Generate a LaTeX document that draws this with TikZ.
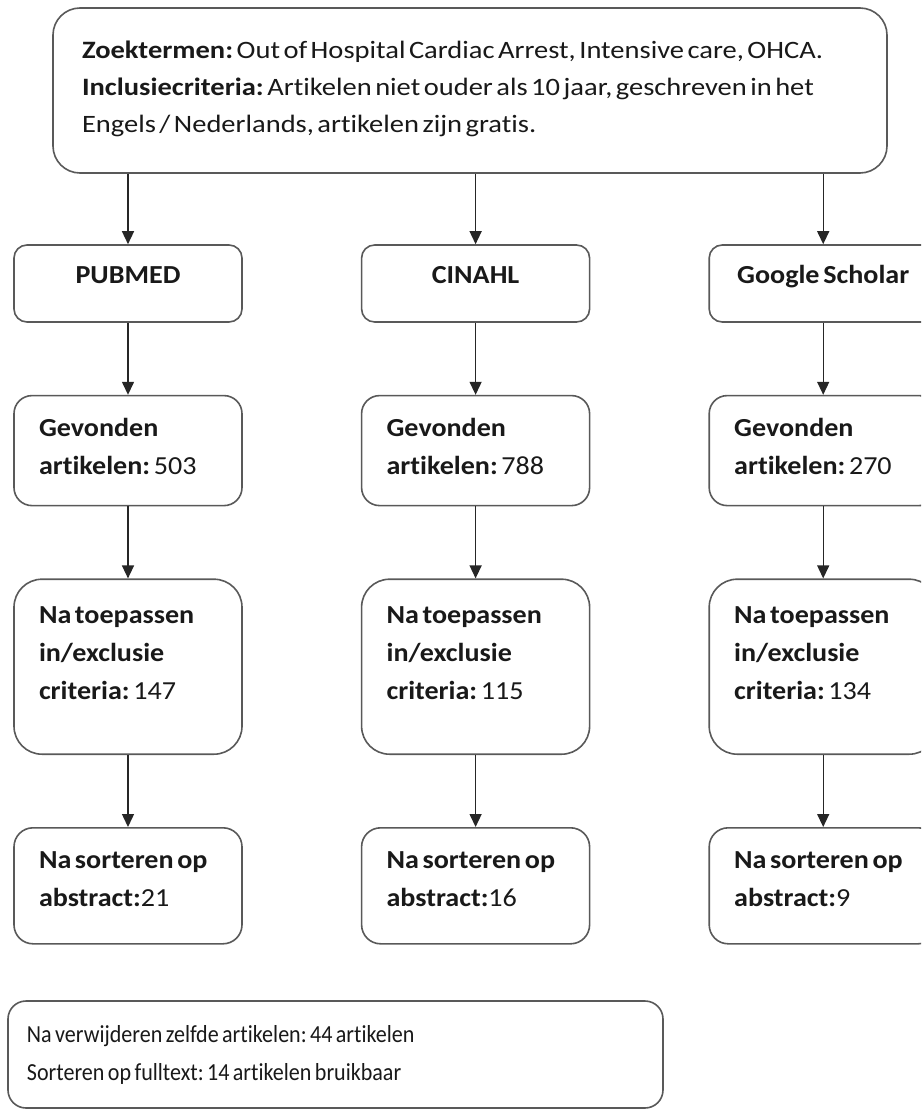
\documentclass[tikz,border=0pt]{standalone}
\usepackage{fontspec}
\setmainfont{Carlito}
\newfontfamily\topfont[FakeStretch=1.14, Ligatures=NoCommon]{Carlito}
\newfontfamily\boxfont[FakeStretch=1.08, Ligatures=NoCommon]{Carlito}
\newfontfamily\endfont[FakeStretch=0.90, Ligatures=NoCommon]{Carlito}
\newcommand{\tightsp}{\frenchspacing\spaceskip=0.14em plus 0.05em\relax}
\usetikzlibrary{arrows.meta,positioning}

\begin{document}
\begin{tikzpicture}[
  x=1pt, y=-1pt,
  node distance=72pt and 118pt,
  box/.style={draw=black!65, line width=1.6pt, fill=white, text=black!90,
              align=left, inner ysep=0pt, execute at begin node=\tightsp},
  srcbox/.style={box, rounded corners=13pt, inner xsep=25pt, text width=178pt,
                 minimum height=77pt, text height=17pt, text depth=17pt, align=center,
                 font=\boxfont\fontsize{26}{38}\selectfont\bfseries},
  stepbox/.style={box, inner xsep=25pt, text width=178pt, text height=17pt,
                  font=\boxfont\fontsize{26}{38}\selectfont},
  foundbox/.style={stepbox, rounded corners=18pt, minimum height=110pt, text depth=46pt},
  filterbox/.style={stepbox, rounded corners=28pt, minimum height=175pt, text depth=103pt},
  sortbox/.style={stepbox, rounded corners=19pt, minimum height=116pt, text depth=52pt},
  arr/.style={-{Triangle[width=12pt,length=13pt]}, line width=1.4pt, black!85}
]
\useasboundingbox (0,0) rectangle (921,1111);
\clip (0,0) rectangle (921,1111);

\node[box, rounded corners=27pt, inner xsep=29pt, text width=776pt, minimum height=165pt,
      text height=16pt, text depth=81pt, font=\topfont\fontsize{25}{37}\selectfont]
  (zoek) at (470,90.5) {\textbf{Zoektermen:} Out of Hospital Cardiac Arrest, Intensive care, OHCA.\\
  \textbf{Inclusiecriteria:} Artikelen niet ouder als 10 jaar, geschreven in het\\
  Engels / Nederlands, artikelen zijn gratis.};

\node[srcbox] (pub) at (128,283.5) {PUBMED};
\node[srcbox, right=of pub] (cin) {CINAHL};
\node[srcbox, right=of cin] (gs) {Google Scholar};

\node[foundbox, below=of pub] (pubfound) {\textbf{Gevonden}\\ \textbf{artikelen:} 503};
\node[foundbox, below=of cin] (cinfound) {\textbf{Gevonden}\\ \textbf{artikelen:} 788};
\node[foundbox, below=of gs] (gsfound) {\textbf{Gevonden}\\ \textbf{artikelen:} 270};

\node[filterbox, below=of pubfound] (pubfilter) {\textbf{Na toepassen}\\ \textbf{in/exclusie}\\ \textbf{criteria:} 147};
\node[filterbox, below=of cinfound] (cinfilter) {\textbf{Na toepassen}\\ \textbf{in/exclusie}\\ \textbf{criteria:} 115};
\node[filterbox, below=of gsfound] (gsfilter) {\textbf{Na toepassen}\\ \textbf{in/exclusie}\\ \textbf{criteria:} 134};

\node[sortbox, below=of pubfilter] (pubsort) {\textbf{Na sorteren op}\\ \textbf{abstract:}21};
\node[sortbox, below=of cinfilter] (cinsort) {\textbf{Na sorteren op}\\ \textbf{abstract:}16};
\node[sortbox, below=of gsfilter] (gssort) {\textbf{Na sorteren op}\\ \textbf{abstract:}9};

\node[box, rounded corners=18pt, inner xsep=19pt, text width=617pt, minimum height=107pt,
      text height=16pt, text depth=40pt, font=\endfont\fontsize{24.5}{38}\selectfont]
  (result) at (335.5,1054.5) {Na verwijderen zelfde artikelen: 44 artikelen\\
  Sorteren op fulltext: 14 artikelen bruikbaar};

\draw[arr] (zoek.south -| pub) -- (pub);
\draw[arr] (zoek.south -| cin) -- (cin);
\draw[arr] (zoek.south -| gs) -- (gs);
\foreach \col in {pub,cin,gs} {
  \draw[arr] (\col) -- (\col found);
  \draw[arr] (\col found) -- (\col filter);
  \draw[arr] (\col filter) -- (\col sort);
}
\end{tikzpicture}
\end{document}
